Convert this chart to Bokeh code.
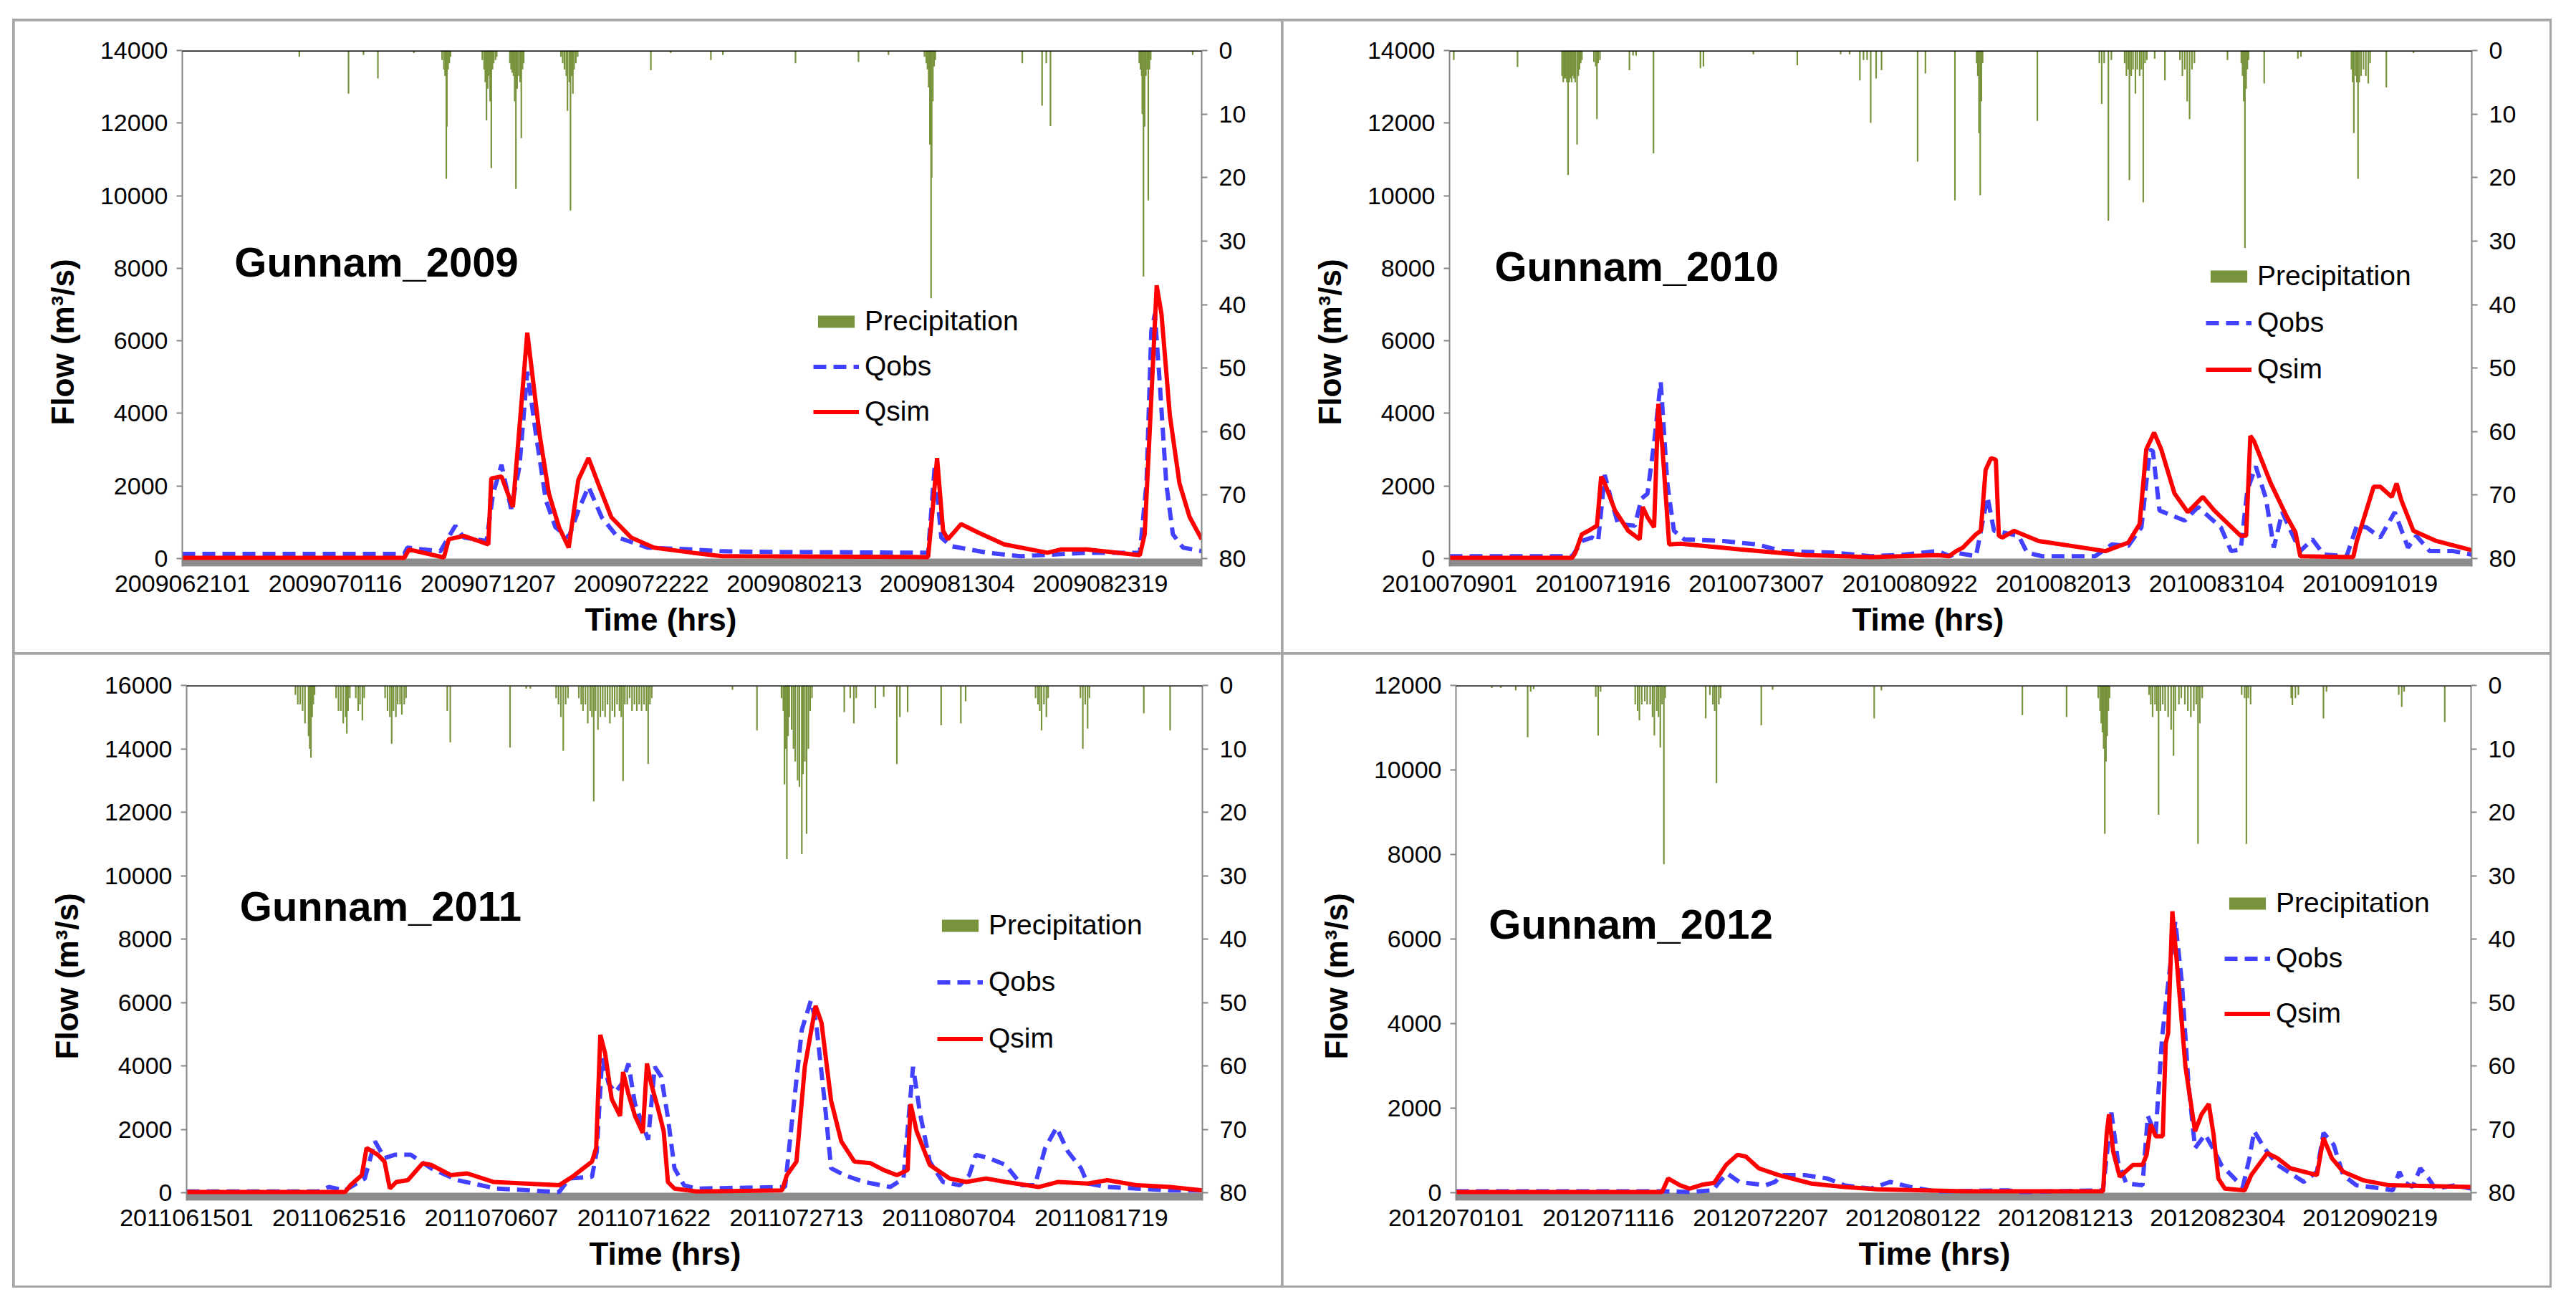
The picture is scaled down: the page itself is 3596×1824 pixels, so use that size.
from bokeh.plotting import figure
from bokeh.models import (Range1d, LinearAxis, FixedTicker, Legend, LegendItem,
                          Label, Span, Title)
from bokeh.layouts import row, column
from bokeh.embed import file_html
from bokeh.resources import INLINE

FONT = "Liberation Sans"

# ---------------- x tick labels (every 255 hourly steps) ----------------
tick_pos = [0, 255, 510, 765, 1020, 1275, 1530]
ticks_2009 = ["2009062101", "2009070116", "2009071207", "2009072222", "2009080213", "2009081304", "2009082319"]
ticks_2010 = ["2010070901", "2010071916", "2010073007", "2010080922", "2010082013", "2010083104", "2010091019"]
ticks_2011 = ["2011061501", "2011062516", "2011070607", "2011071622", "2011072713", "2011080704", "2011081719"]
ticks_2012 = ["2012070101", "2012071116", "2012072207", "2012080122", "2012081213", "2012082304", "2012090219"]
n_hours = 1700

# ---------------- 2009 ----------------
sim09_h = [0, 370, 378, 436, 444, 469, 510, 515, 532, 551, 575, 595, 611, 628, 644, 660, 677, 693, 715, 748, 786, 851, 900,
           1243, 1251, 1258, 1268, 1276, 1298, 1326, 1370, 1442, 1464, 1508, 1596, 1604, 1615, 1624, 1632, 1646, 1662, 1679, 1699]
sim09_q = [20, 20, 250, 30, 530, 625, 390, 2210, 2260, 1420, 6225, 3470, 1790, 860, 300, 2165, 2770, 2070, 1140, 580, 300, 160, 65,
           40, 1420, 2770, 765, 530, 950, 720, 390, 160, 250, 250, 95, 670, 4400, 7530, 6740, 3940, 2070, 1140, 530]
obs09_h = [0, 370, 375, 430, 455, 469, 507, 518, 532, 548, 562, 575, 589, 606, 622, 644, 660, 677, 699, 726, 776, 851, 900, 1000,
           1243, 1254, 1265, 1281, 1342, 1397, 1508, 1596, 1607, 1615, 1621, 1629, 1640, 1651, 1668, 1699]
obs09_q = [130, 130, 300, 200, 905, 580, 485, 1790, 2585, 1370, 2540, 5150, 3470, 1605, 860, 580, 1325, 1980, 1140, 580, 300, 250, 200, 180,
           160, 2540, 580, 345, 160, 65, 160, 160, 2070, 6270, 6740, 4870, 2070, 670, 300, 205]
rain09_h = [195, 277, 302, 326, 386,
            433, 436, 438, 440, 441, 443, 445, 447,
            500, 503, 505, 507, 509, 511, 513, 515, 517, 519, 522, 524,
            546, 548, 550, 552, 554, 556, 558, 560, 563, 565, 567, 569,
            631, 634, 637, 640, 642, 645, 647, 649, 651, 653, 656, 659,
            781, 814, 881, 901, 1022, 1127, 1177,
            1237, 1240, 1242, 1244, 1246, 1248, 1249, 1251, 1253, 1255,
            1400, 1433, 1440, 1447,
            1595, 1597, 1599, 1600, 1602, 1604, 1606, 1608, 1610, 1612, 1614, 1684]
rain09_mm = [1, 6.8, 0.7, 4.4, 0.4,
             1.5, 3, 4, 20.2, 12, 3, 2, 1,
             1.5, 3, 5, 11, 6, 4, 8, 18.5, 3, 2, 1.5, 1,
             2, 3, 3.5, 4, 8, 21.8, 6, 4, 5, 13.8, 3, 2,
             1, 2, 3, 4, 9.5, 5, 25.2, 4, 6.8, 3, 2, 1,
             3.1, 0.4, 1.5, 0.7, 2, 1.8, 0.7,
             1, 2, 3, 5.8, 14.8, 39, 20, 8, 2.5, 1.5,
             2, 8.7, 2, 11.9,
             2, 3, 4, 10, 35.6, 12, 4, 3, 23.6, 3, 1.5, 0.7]

# ---------------- 2010 ----------------
sim10_h = [0, 204, 209, 220, 231, 245, 252, 258, 275, 297, 316, 321, 329, 340, 347, 354, 365, 384, 483, 592, 701, 811, 830,
           842, 853, 875, 883, 891, 900, 908, 913, 919, 938, 979, 1090, 1128, 1147, 1158, 1171, 1183, 1205, 1227, 1252, 1271,
           1315, 1324, 1331, 1337, 1365, 1392, 1406, 1414, 1502, 1508, 1536, 1547, 1566, 1574, 1582, 1602, 1640, 1699]
sim10_q = [20, 20, 160, 670, 765, 905, 2260, 2070, 1325, 765, 530, 1420, 1140, 860, 4265, 3005, 390, 410, 250, 95, 40, 95, 65,
           205, 300, 670, 765, 2445, 2770, 2725, 625, 580, 765, 485, 205, 440, 950, 3005, 3470, 3005, 1790, 1280, 1700, 1325,
           625, 625, 3380, 3240, 2070, 1140, 720, 65, 40, 485, 1980, 1980, 1700, 2070, 1605, 765, 485, 230]
obs10_h = [0, 204, 220, 237, 247, 258, 269, 280, 308, 319, 329, 340, 351, 362, 373, 390, 455, 510, 554, 641, 701, 756, 811, 832,
           842, 875, 894, 905, 919, 946, 960, 985, 1073, 1101, 1128, 1150, 1164, 1169, 1180, 1222, 1244, 1282, 1299, 1315, 1326,
           1340, 1357, 1370, 1384, 1398, 1414, 1434, 1453, 1491, 1508, 1524, 1547, 1571, 1593, 1607, 1629, 1668, 1699]
obs10_q = [65, 65, 485, 580, 485, 2305, 1605, 950, 905, 1650, 1790, 3190, 4870, 2070, 765, 530, 485, 390, 205, 160, 65, 110, 205, 65,
           160, 65, 1700, 765, 720, 625, 160, 65, 65, 390, 345, 860, 3005, 2960, 1325, 1045, 1420, 860, 205, 250, 1885,
           2540, 1650, 300, 1280, 765, 205, 530, 110, 65, 905, 860, 580, 1280, 300, 625, 205, 205, 110]
rain10_h = [7, 113,
            187, 189, 191, 193, 195, 197, 199, 201, 203, 205, 207, 209, 212, 214, 216, 218, 220,
            240, 243, 245, 247, 250, 299, 305, 310, 339, 417, 422, 505, 578, 650, 665,
            682, 688, 694, 700, 709, 718, 778, 791, 840,
            876, 878, 880, 882, 884, 886, 977, 1080, 1084, 1088, 1095, 1100,
            1122, 1125, 1128, 1130, 1133, 1136, 1140, 1143, 1147, 1150, 1153, 1156, 1159,
            1172, 1189, 1214, 1218, 1222, 1226, 1230, 1234, 1238, 1293,
            1316, 1318, 1320, 1322, 1324, 1326, 1328, 1354, 1410, 1415,
            1499, 1501, 1503, 1506, 1508, 1510, 1512, 1515, 1519, 1523, 1527, 1530, 1557, 1602]
rain10_mm = [1.5, 2.6,
             4, 5, 4.4, 4.4, 5, 19.6, 5, 4.4, 5, 4, 4.4, 5, 14.8, 4, 3, 2, 1.5,
             1.8, 2.5, 10.8, 2, 1.5, 3.1, 0.8, 0.8, 16.2, 2.8, 2.5, 0.6, 2.3, 0.6, 0.6,
             4.7, 1.5, 1.5, 11.4, 4.4, 3.1, 17.5, 3.6, 23.6,
             2, 4, 13, 22.8, 8, 2, 11.1, 2, 8.4, 2, 26.8, 1.5,
             2, 4, 3, 20.4, 4, 3, 6.8, 3, 4, 3, 23.9, 2, 1.5,
             1.3, 4.7, 1.5, 4, 3, 8, 10.8, 3, 2, 1.5,
             2, 4, 8, 31.1, 6, 3, 1.5, 5.2, 1.3, 1,
             3, 5, 13, 4, 5, 20.2, 5, 4, 3, 4, 5.2, 2, 5.8, 0.4]

# ---------------- 2011 ----------------
sim11_h = [0, 265, 274, 293, 301, 320, 331, 340, 351, 370, 395, 409, 442, 469, 513, 568, 623, 645, 678, 685, 692, 700, 711, 725,
           730, 739, 750, 763, 770, 777, 788, 798, 805, 816, 853, 996, 1004, 1020, 1034, 1052, 1062, 1078, 1095, 1117, 1144,
           1166, 1188, 1206, 1211, 1221, 1243, 1276, 1304, 1337, 1370, 1425, 1458, 1507, 1540, 1590, 1645, 1699]
sim11_q = [20, 20, 235, 555, 1410, 1195, 980, 130, 340, 395, 930, 875, 555, 610, 340, 290, 235, 500, 980, 1410, 4980, 4395, 2955, 2420,
           3810, 3115, 2420, 1890, 4075, 3435, 2690, 1940, 340, 130, 40, 75, 555, 980, 3970, 5890, 5355, 2900, 1620, 980, 930,
           715, 555, 715, 2795, 1940, 875, 450, 340, 450, 340, 180, 340, 290, 395, 235, 180, 75]
obs11_h = [0, 220, 238, 265, 298, 315, 331, 348, 375, 409, 453, 518, 623, 640, 678, 686, 695, 706, 717, 728, 739, 750, 772, 783,
           794, 805, 816, 832, 853, 1001, 1012, 1029, 1044, 1053, 1067, 1078, 1100, 1133, 1177, 1199, 1215, 1227, 1243, 1265,
           1293, 1309, 1320, 1342, 1370, 1397, 1419, 1436, 1455, 1474, 1496, 1507, 1540, 1590, 1645, 1699]
obs11_q = [40, 40, 180, 75, 450, 1620, 1090, 1195, 1195, 770, 395, 130, 20, 450, 500, 1300, 4235, 3435, 3170, 3435, 4075, 2795, 1675, 3970,
           3650, 2370, 770, 235, 130, 180, 2155, 5140, 6050, 5355, 2900, 770, 555, 340, 180, 450, 3970, 2475, 980, 340,
           235, 555, 1195, 1090, 875, 235, 235, 1410, 2050, 1300, 770, 290, 180, 130, 75, 75]
rain11_h = [182, 186, 190, 194, 198, 204, 206, 208, 210, 212, 214,
            250, 254, 258, 262, 266, 268, 270, 273, 283, 287, 290, 294, 297,
            332, 336, 340, 343, 346, 350, 353, 357, 360, 364, 367, 436, 441, 541, 568, 575,
            618, 622, 626, 630, 634, 638,
            656, 660, 663, 667, 671, 675, 678, 681, 684, 688, 692, 696, 700, 704, 708, 712, 716, 720, 724, 727, 730,
            733, 737, 741, 745, 749, 753, 757, 761, 765, 769, 772, 775, 778,
            913, 954, 995, 998, 1000, 1002, 1004, 1006, 1008, 1012, 1015, 1018, 1022, 1025, 1029, 1031, 1034, 1037, 1040, 1043, 1046,
            1100, 1110, 1116, 1120, 1152, 1166, 1188, 1193, 1206, 1262, 1295, 1303,
            1420, 1424, 1427, 1430, 1434, 1438, 1441, 1495, 1499, 1503, 1507, 1510, 1601, 1645]
rain11_mm = [1.5, 3, 3, 4, 6, 8, 10, 11.4, 5, 3, 1.5,
             2, 4, 4, 6, 5, 7.6, 4, 2, 2, 4, 3, 5.5, 2,
             2, 4, 5, 9.2, 4, 5, 3, 3, 4.6, 3, 2, 4, 9, 9.8, 0.5, 0.5,
             2, 3, 5, 10.3, 3, 2,
             2, 3, 4, 3, 6, 4, 5, 18.3, 4, 7, 5, 4, 5, 3, 6, 4, 5, 3, 4, 5, 15.1,
             3, 3, 2, 4, 3, 4, 3, 4, 3, 4, 12.4, 3, 2,
             0.7, 7.1, 2, 4, 15.6, 10, 27.4, 8, 5, 7, 10, 12, 15, 16, 26.6, 14, 12, 23.4, 10, 4, 2,
             4.2, 2, 6, 2, 3.6, 1.8, 12.4, 5, 4.2, 6.3, 6, 2.5,
             2, 3, 4, 7.1, 3, 5, 2, 2, 10, 3, 6.8, 2, 4.4, 7.1]

# ---------------- 2012 ----------------
sim12_h = [0, 345, 355, 375, 391, 413, 432, 452, 471, 485, 507, 540, 595, 650, 705, 852, 1083, 1089, 1093, 1100, 1111, 1133,
           1149, 1156, 1163, 1171, 1183, 1188, 1192, 1199, 1207, 1221, 1237, 1248, 1260, 1268, 1276, 1287, 1320, 1331, 1358,
           1375, 1397, 1441, 1452, 1466, 1485, 1518, 1562, 1617, 1699]
sim12_q = [16, 16, 336, 176, 96, 192, 232, 656, 896, 856, 576, 416, 216, 136, 80, 32, 32, 1376, 1856, 976, 376, 656,
           656, 896, 1616, 1336, 1336, 3536, 3776, 6656, 5376, 2976, 1456, 1856, 2096, 1376, 336, 96, 56, 416, 936,
           816, 576, 416, 1296, 816, 496, 296, 176, 160, 136]
obs12_h = [0, 345, 391, 430, 441, 454, 474, 518, 534, 545, 584, 622, 650, 694, 727, 760, 804, 924, 940, 1083, 1097, 1108,
           1122, 1149, 1158, 1171, 1182, 1191, 1204, 1215, 1226, 1237, 1254, 1270, 1281, 1303, 1317, 1328, 1336, 1353, 1375,
           1397, 1419, 1441, 1452, 1469, 1485, 1507, 1551, 1568, 1579, 1587, 1601, 1614, 1628, 1639, 1672, 1699]
obs12_q = [32, 32, 16, 56, 256, 456, 256, 176, 256, 416, 416, 336, 176, 96, 256, 136, 32, 56, 16, 56, 1896, 736,
           216, 176, 1816, 1376, 3696, 4816, 6416, 4976, 2576, 1056, 1376, 976, 656, 336, 136, 816, 1456, 1056, 656,
           456, 256, 496, 1416, 1136, 416, 176, 96, 56, 496, 256, 136, 576, 336, 96, 176, 96]
rain12_h = [60, 75, 100, 120, 125, 130, 234, 238, 242,
            300, 304, 307, 311, 316, 320, 325, 329, 332, 336, 339, 342, 345, 348, 350,
            418, 425, 430, 433, 436, 440, 443, 511, 530, 700, 712, 948, 1022,
            1075, 1078, 1080, 1082, 1084, 1086, 1088, 1090, 1092, 1094,
            1160, 1163, 1166, 1170, 1173, 1176, 1179, 1183, 1187, 1192, 1197, 1201, 1204, 1210, 1214, 1220, 1225,
            1230, 1235, 1239, 1242, 1245, 1249,
            1315, 1320, 1323, 1326, 1330, 1398, 1400, 1405, 1410, 1452, 1457, 1578, 1583, 1587, 1655]
rain12_mm = [0.4, 0.4, 0.8, 8.2, 1, 0.6, 1.8, 7.9, 1,
             3, 4, 5.5, 3, 2.5, 3, 3, 5, 7.9, 4, 5, 9.8, 3, 28.2, 2,
             5.2, 1.5, 3, 4, 15.4, 3, 2, 6.3, 0.7, 5.2, 0.8, 4.7, 5,
             2, 4, 6, 7.4, 10, 23.4, 12, 8, 4, 2,
             1.5, 3, 5, 3, 4, 20.4, 4, 3, 4, 5, 7, 11.1, 4, 3, 2, 3, 4,
             5, 4, 3, 25, 6, 2,
             1.5, 2, 25, 2, 3, 2, 3.1, 2, 1.5, 5.2, 1, 1.5, 3.4, 1, 5.8]

GREEN = "#77933C"
BLUE = "#4141FF"
RED = "#FF0000"
AXIS_GREY = "#868686"
BAND_GREY = "#8C8C8C"
W, H = 1768, 881
BAND_PX = 11


def make_panel(name, tick_labels, ymax, obs_h, obs_q, sim_h, sim_q, rain_h, rain_mm,
               borders, title_xy, legend_xy, legend_spacing, time_offset, flow_offset):
    left, right, top, bottom = borders
    frame_h = H - top - bottom
    band = ymax * BAND_PX / (frame_h - BAND_PX)
    rain_start = 80.0 * frame_h / (frame_h - BAND_PX)
    p = figure(width=W, height=H, output_backend="svg", toolbar_location=None,
               x_range=Range1d(0, n_hours - 1), y_range=Range1d(-band, ymax),
               min_border_left=left, min_border_right=right,
               min_border_top=top, min_border_bottom=bottom,
               background_fill_color="white", border_fill_color="white",
               outline_line_color=None)
    p.grid.visible = False
    p.extra_y_ranges = {"rain": Range1d(start=rain_start, end=0)}

    r_rain = p.vbar(x=rain_h, width=2.6, top=[0] * len(rain_h), bottom=rain_mm,
                    y_range_name="rain", fill_color=GREEN, line_color=None)
    p.quad(left=[0], right=[n_hours - 1], bottom=[-band], top=[0],
           fill_color=BAND_GREY, line_color=None)
    r_obs = p.line(obs_h, obs_q, line_color=BLUE, line_width=6, line_dash="18 10")
    r_sim = p.line(sim_h, sim_q, line_color=RED, line_width=6)

    p.add_layout(Span(location=ymax, dimension="width", line_color="black", line_width=3))

    # x axis
    xa = p.xaxis[0]
    xa.ticker = FixedTicker(ticks=tick_pos)
    xa.major_label_overrides = {t: lab for t, lab in zip(tick_pos, tick_labels)}
    xa.axis_line_color = None
    xa.major_tick_line_color = None
    xa.minor_tick_line_color = None
    xa.major_label_standoff = 6
    xa.major_label_text_font = FONT
    xa.major_label_text_font_size = "34px"
    xa.major_label_text_color = "black"

    # left axis
    ya = p.yaxis[0]
    ya.ticker = FixedTicker(ticks=list(range(0, ymax + 1, 2000)))
    ya.axis_line_color = AXIS_GREY
    ya.axis_line_width = 2
    ya.major_tick_line_color = AXIS_GREY
    ya.major_tick_line_width = 2
    ya.major_tick_out = 8
    ya.major_tick_in = 0
    ya.minor_tick_line_color = None
    ya.major_label_standoff = 12
    ya.major_label_text_font = FONT
    ya.major_label_text_font_size = "34px"
    ya.major_label_text_color = "black"

    # right axis (precipitation, reversed)
    ra = LinearAxis(y_range_name="rain", ticker=FixedTicker(ticks=list(range(0, 81, 10))))
    ra.axis_line_color = AXIS_GREY
    ra.axis_line_width = 2
    ra.major_tick_line_color = AXIS_GREY
    ra.major_tick_line_width = 2
    ra.major_tick_out = 8
    ra.major_tick_in = 0
    ra.minor_tick_line_color = None
    ra.major_label_standoff = 16
    ra.major_label_text_font = FONT
    ra.major_label_text_font_size = "34px"
    ra.major_label_text_color = "black"
    p.add_layout(ra, "right")

    # axis titles
    p.add_layout(Title(text="Time (hrs)", align="left", offset=time_offset, standoff=18,
                       text_font=FONT, text_font_size="44px", text_font_style="bold",
                       text_color="black"), "below")
    p.add_layout(Title(text="Flow (m³/s)", align="left", offset=flow_offset, standoff=50,
                       text_font=FONT, text_font_size="44px", text_font_style="bold",
                       text_color="black"), "left")

    # panel name
    p.add_layout(Label(x=title_xy[0], y=title_xy[1], text=name, text_font=FONT,
                       text_font_size="58px", text_font_style="bold", text_color="black",
                       text_baseline="alphabetic"))

    legend = Legend(items=[LegendItem(label="Precipitation", renderers=[r_rain]),
                           LegendItem(label="Qobs", renderers=[r_obs]),
                           LegendItem(label="Qsim", renderers=[r_sim])],
                    location=legend_xy, orientation="vertical",
                    glyph_width=64, glyph_height=21, label_standoff=8,
                    label_text_font=FONT, label_text_font_size="39px",
                    label_text_color="black",
                    spacing=legend_spacing, padding=0, margin=0,
                    border_line_color=None, background_fill_alpha=0)
    p.add_layout(legend)
    return p


p1 = make_panel("Gunnam_2009", ticks_2009, 14000, obs09_h, obs09_q, sim09_h, sim09_q, rain09_h, rain09_mm,
                (234, 111, 41, 120), (87, 8175), (881, 194), 19, 562, 197)
p2 = make_panel("Gunnam_2010", ticks_2010, 14000, obs10_h, obs10_q, sim10_h, sim10_q, rain10_h, rain10_mm,
                (232, 109, 41, 120), (75, 8060), (1056, 253), 21, 562, 197)
p3 = make_panel("Gunnam_2011", ticks_2011, 16000, obs11_h, obs11_q, sim11_h, sim11_q, rain11_h, rain11_mm,
                (240, 110, 43, 119), (89, 9030), (1048, 204), 35, 562, 197)
p4 = make_panel("Gunnam_2012", ticks_2012, 12000, obs12_h, obs12_q, sim12_h, sim12_q, rain12_h, rain12_mm,
                (241, 110, 43, 119), (55, 6356), (1073, 239), 33, 562, 197)

layout = column(row(p1, p2, spacing=3), row(p3, p4, spacing=3), spacing=3,
                styles={"background-color": "#a6a6a6", "padding": "3px"},
                margin=(26, 0, 0, 17))

open("out.html", "w").write(file_html(layout, INLINE))
